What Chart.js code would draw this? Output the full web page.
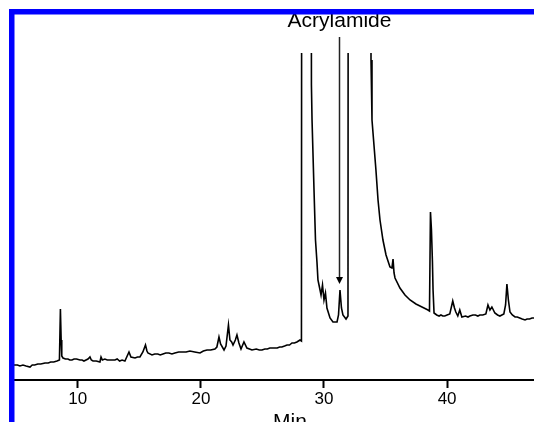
<!DOCTYPE html>
<html>
<head>
<meta charset="utf-8">
<script src="https://cdn.jsdelivr.net/npm/chart.js@4.4.0/dist/chart.umd.min.js"></script>
<style>
  html, body { margin: 0; padding: 0; background: #fff; }
  canvas { display: block; }
</style>
</head>
<body>
<canvas id="chrom" width="534" height="422"></canvas>
<script>
// retention time (min) and detector signal
const times = [
  4.82, 5.1, 5.3, 5.55, 5.8, 6.12, 6.3, 6.5, 6.75, 7.0, 7.34, 7.6, 7.8, 8.05, 8.31,
  8.51, 8.59, 8.65, 8.70, 8.80, 9.0, 9.2, 9.35, 9.53, 9.7, 9.9, 10.18, 10.35, 10.5,
  10.83, 10.99, 11.1, 11.24, 11.5, 11.80, 11.89, 12.0, 12.2, 12.4, 12.7, 13.02,
  13.2, 13.4, 13.6, 13.83, 14.16, 14.32, 14.65, 14.85, 15.05, 15.29, 15.5, 15.62,
  15.7, 16.03, 16.25, 16.5, 16.7, 16.92, 17.15, 17.4, 17.65, 17.89, 18.2, 18.5,
  18.8, 19.11, 19.5, 19.93, 20.2, 20.5, 20.8, 21.14, 21.3, 21.47, 21.6, 21.88,
  22.04, 22.24, 22.36, 22.5, 22.61, 22.8, 22.93, 23.09, 23.26, 23.5, 23.74, 23.95,
  24.15, 24.5, 24.75, 24.96, 25.2, 25.4, 25.6, 25.77, 26.0, 26.2, 26.4, 26.58,
  26.8, 27.0, 27.2, 27.4, 27.6, 27.8, 28.05, 28.17, 28.25, 28.9, 28.98, 29.03,
  29.19, 29.31, 29.43, 29.51, 29.68, 29.76, 29.88, 30.0, 30.12, 30.24, 30.49,
  30.73, 31.06, 31.18, 31.3, 31.42, 31.54, 31.79, 31.95, 32.03, 33.76, 33.82,
  33.90, 34.06, 34.22, 34.39, 34.55, 34.79, 35.04, 35.36, 35.52, 35.61, 35.69,
  35.77, 36.17, 36.58, 36.99, 37.47, 37.96, 38.45, 38.57, 38.65, 38.73, 38.81,
  38.86, 38.94, 39.16, 39.35, 39.5, 39.65, 39.81, 40.0, 40.22, 40.46, 40.6, 40.71,
  40.87, 41.03, 41.2, 41.5, 41.7, 41.85, 42.1, 42.3, 42.5, 42.66, 42.9, 43.15,
  43.32, 43.48, 43.64, 43.88, 44.1, 44.29, 44.45, 44.61, 44.75, 44.86, 44.98,
  45.11, 45.3, 45.52, 45.7, 45.9, 46.1, 46.33, 46.5, 46.7, 46.9, 47.06
];
const signal = [
  15, 15, 14, 15, 14, 13, 15, 15, 16, 16, 17, 17, 18, 18, 19,
  20, 71, 40, 24, 22, 21, 21, 20, 20, 21, 21, 20, 20, 19,
  21, 23, 20, 19, 19, 18, 23, 20, 21, 20, 20, 20,
  21, 19, 20, 19, 28, 23, 22, 23, 23, 28, 35, 29,
  27, 25, 26, 26, 25, 26, 27, 27, 26, 27, 28, 28,
  28, 29, 28, 27, 29, 30, 30, 31, 33, 43, 36, 30,
  34, 55, 40, 38, 35, 40, 45, 37, 31, 38, 32, 31,
  30, 31, 30, 30, 31, 31, 32, 32, 32, 32, 33, 33,
  34, 35, 35, 37, 37, 38, 40, 39, 2000, 2000, 295, 260,
  190, 140, 118, 100, 90, 85, 95, 80, 87, 72, 62,
  58, 58, 65, 90, 72, 65, 61, 64, 2000, 2000, 320,
  260, 235, 210, 180, 160, 140, 125, 113, 112, 121, 107,
  102, 92, 85, 80, 76, 73, 70, 69, 168, 150, 118,
  90, 67, 65, 64, 65, 64, 64, 65, 66, 79, 72, 68,
  64, 70, 63, 64, 63, 64, 65, 65, 64, 65, 65, 66,
  75, 70, 73, 67, 65, 64, 65, 66, 75, 96, 80,
  68, 65, 63, 63, 62, 61, 60, 61, 61, 62, 62
];

const xMin = 4.82;
const xMax = 47.06;
const tickValues = [10, 20, 30, 40];
const axisTitle = 'Min';
const peakLabel = 'Acrylamide';
const peakTime = 31.3;

const fontFamily = '"Liberation Sans", Arial, Helvetica, sans-serif';

const points = times.map((t, i) => ({ x: t, y: signal[i] }));

// label, arrow and the blue frame drawn on top
const decorations = {
  id: 'decorations',
  afterDraw(chart) {
    const ctx = chart.ctx;
    const ax = Math.round(chart.scales.x.getPixelForValue(peakTime)) - 0.5;
    ctx.save();
    ctx.strokeStyle = '#222';
    ctx.lineWidth = 1.5;
    ctx.beginPath();
    ctx.moveTo(ax, 37);
    ctx.lineTo(ax, 278);
    ctx.stroke();
    ctx.fillStyle = '#000';
    ctx.beginPath();
    ctx.moveTo(ax - 3.5, 277);
    ctx.lineTo(ax + 3.5, 277);
    ctx.lineTo(ax, 284);
    ctx.closePath();
    ctx.fill();

    ctx.font = '21px ' + fontFamily;
    ctx.textAlign = 'center';
    ctx.textBaseline = 'alphabetic';
    ctx.fillText(peakLabel, ax, 27);
    ctx.fillText(axisTitle, 290, 428);

    ctx.fillStyle = '#0000ff';
    ctx.fillRect(9, 9, 5.5, 413);
    ctx.fillRect(9, 9, 525, 5.5);
    ctx.restore();
  }
};

new Chart(document.getElementById('chrom'), {
  type: 'line',
  data: {
    datasets: [{
      data: points,
      borderColor: '#000',
      borderWidth: 1.6,
      pointRadius: 0,
      tension: 0,
      fill: false
    }]
  },
  options: {
    responsive: false,
    animation: false,
    events: [],
    layout: { padding: { left: 14, top: 53, right: 0, bottom: 0 } },
    plugins: {
      legend: { display: false },
      tooltip: { enabled: false }
    },
    scales: {
      x: {
        type: 'linear',
        position: 'bottom',
        min: xMin,
        max: xMax,
        afterBuildTicks: (scale) => {
          scale.ticks = tickValues.map(v => ({ value: v }));
        },
        afterFit: (scale) => { scale.height = 42; },
        grid: {
          drawOnChartArea: false,
          drawTicks: true,
          tickLength: 8,
          tickWidth: 2,
          tickColor: '#000'
        },
        border: { display: true, color: '#000', width: 2 },
        ticks: {
          color: '#000',
          padding: 1,
          maxRotation: 0,
          font: { family: fontFamily, size: 17 }
        }
      },
      y: {
        display: false,
        min: 0,
        max: 327
      }
    }
  },
  plugins: [decorations]
});
</script>
</body>
</html>
